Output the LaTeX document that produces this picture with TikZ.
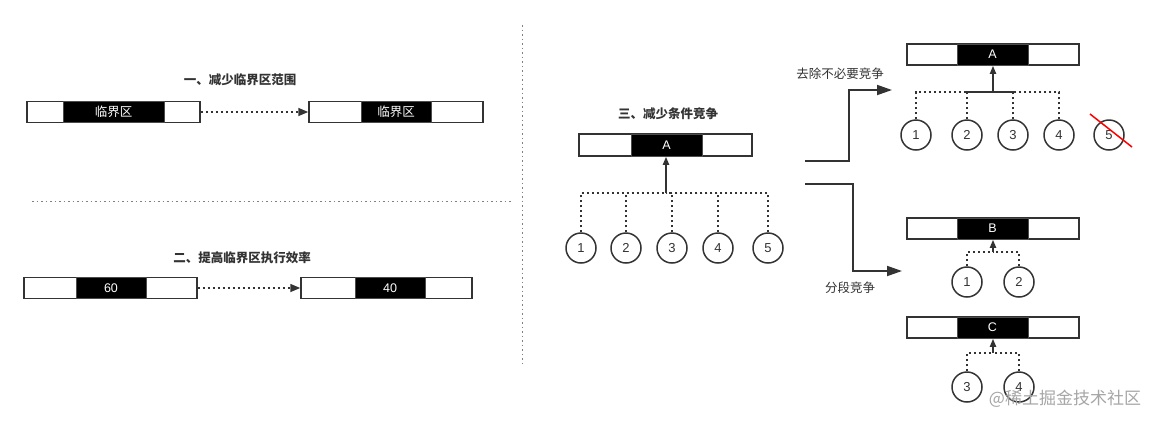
\documentclass[tikz,border=0pt]{standalone}
\usepackage{fontspec}
\setmainfont{Liberation Sans}
\newfontfamily\cjk{Noto Sans CJK SC}
\usetikzlibrary{arrows.meta}
\definecolor{ink}{HTML}{333333}
\tikzset{
  outerbox/.style={draw=ink, line width=1.5pt, fill=white, minimum height=21pt, inner sep=0pt},
  innerbox/.style={draw=black!70, line width=1pt, fill=black, text=white, minimum height=21pt, inner sep=0pt, font=\fontsize{12.5}{14}\selectfont},
  circ/.style={circle, draw=ink, line width=1.5pt, minimum size=30pt, inner sep=0pt, text=ink, font=\fontsize{13}{15}\selectfont},
  dotline/.style={draw=ink, line width=1.5pt, dash pattern=on 2.5pt off 2.5pt},
  dotarrow/.style={dotline, -{Triangle[length=10pt,width=8pt]}},
  uparrow/.style={draw=ink, line width=1.8pt, -{Triangle[length=8pt,width=6pt]}},
  bigarrow/.style={draw=ink, line width=1.8pt, -{Triangle[length=15pt,width=10pt]}},
  sep/.style={draw=black!50, line width=1pt, dash pattern=on 1.5pt off 3pt},
  title/.style={font=\cjk\bfseries\fontsize{12.5}{14}\selectfont, text=ink},
  lbl/.style={font=\cjk\fontsize{12.5}{14}\selectfont, text=ink},
}
\begin{document}
\begin{tikzpicture}[x=1pt,y=-1pt]
\useasboundingbox[fill=white] (0,0) rectangle (1157,424);

% separators
\draw[sep] (522,25) -- (522,365);
\draw[sep] (32,201) -- (513,201);

% section 1
\node[title] (t1) at (240,80) {一、减少临界区范围};
\node[outerbox, minimum width=173pt] (b1) at (113.5,112) {};
\node[innerbox, minimum width=101pt] (b1i) at (113.5,112) {\cjk 临界区};
\node[outerbox, minimum width=174pt] (b2) at (396,112) {};
\node[innerbox, minimum width=70pt] (b2i) at (396,112) {\cjk 临界区};
\draw[dotarrow] (b1.east) -- (b2.west);

% section 2
\node[title] (t2) at (242,258) {二、提高临界区执行效率};
\node[outerbox, minimum width=173pt] (b3) at (110.5,288) {};
\node[innerbox, minimum width=70pt] (b3i) at (111,288) {60};
\node[outerbox, minimum width=171pt] (b4) at (386.5,288) {};
\node[innerbox, minimum width=70pt] (b4i) at (390,288) {40};
\draw[dotarrow] (b3.east) -- (b4.west);

% section 3 centre tree
\node[title] (t3) at (668,114) {三、减少条件竞争};
\node[outerbox, minimum width=173pt, minimum height=22pt] (A) at (665.5,145) {};
\node[innerbox, minimum width=71pt, minimum height=22pt] (Ai) at (666.5,145) {A};
\coordinate (busA) at (666,193);
\node[circ] (a1) at (581,248) {1};
\node[circ] (a2) at (626,248) {2};
\node[circ] (a3) at (672,248) {3};
\node[circ] (a4) at (718,248) {4};
\node[circ] (a5) at (768,248) {5};
\foreach \c in {a1,a2,a3,a4,a5} \draw[dotline] (\c.north) |- (busA);
\draw[uparrow] (busA) -- (busA |- A.south);

% bent arrows
\coordinate (s1) at (805,161);
\coordinate (e1) at (892,90);
\draw[bigarrow] (s1) -- (849,161) |- (e1);
\coordinate (s2) at (805,184);
\coordinate (e2) at (902,271);
\draw[bigarrow] (s2) -- (853,184) |- (e2);
\node[lbl] (l1) at (840,74) {去除不必要竞争};
\node[lbl] (l2) at (850,288) {分段竞争};

% right top tree
\node[outerbox, minimum width=172pt] (R) at (993,54.5) {};
\node[innerbox, minimum width=71pt] (Ri) at (992.5,54.5) {A};
\coordinate (busR) at (993,92);
\node[circ] (r1) at (916,135) {1};
\node[circ] (r2) at (967,135) {2};
\node[circ] (r3) at (1013,135) {3};
\node[circ] (r4) at (1059,135) {4};
\node[circ] (r5) at (1109,135) {5};
\foreach \c in {r1,r2,r3,r4} \draw[dotline] (\c.north) |- (busR);
\draw[draw=ink, line width=1.5pt] (r2.north |- busR) -- (r3.north |- busR);
\draw[uparrow] (busR) -- (busR |- R.south);
\draw[red, line width=1.5pt] (1090,114) -- (1132,147);

% B tree
\node[outerbox, minimum width=172pt] (B) at (993,228.5) {};
\node[innerbox, minimum width=71pt] (Bi) at (992.5,228.5) {B};
\coordinate (busB) at (993,252);
\node[circ] (q1) at (967,282) {1};
\node[circ] (q2) at (1019,282) {2};
\foreach \c in {q1,q2} \draw[dotline] (\c.north) |- (busB);
\draw[uparrow] (busB) -- (busB |- B.south);

% C tree
\node[outerbox, minimum width=172pt] (C) at (993,327.5) {};
\node[innerbox, minimum width=71pt] (Ci) at (992.5,327.5) {C};
\coordinate (busC) at (993,353);
\node[circ] (p3) at (967,387) {3};
\node[circ] (p4) at (1019,387) {4};
\foreach \c in {p3,p4} \draw[dotline] (\c.north) |- (busC);
\draw[uparrow] (busC) -- (busC |- C.south);

% watermark
\node[font=\cjk\fontsize{17}{19}\selectfont, text=black!35] (wm) at (1065,399) {@稀土掘金技术社区};
\end{tikzpicture}
\end{document}
